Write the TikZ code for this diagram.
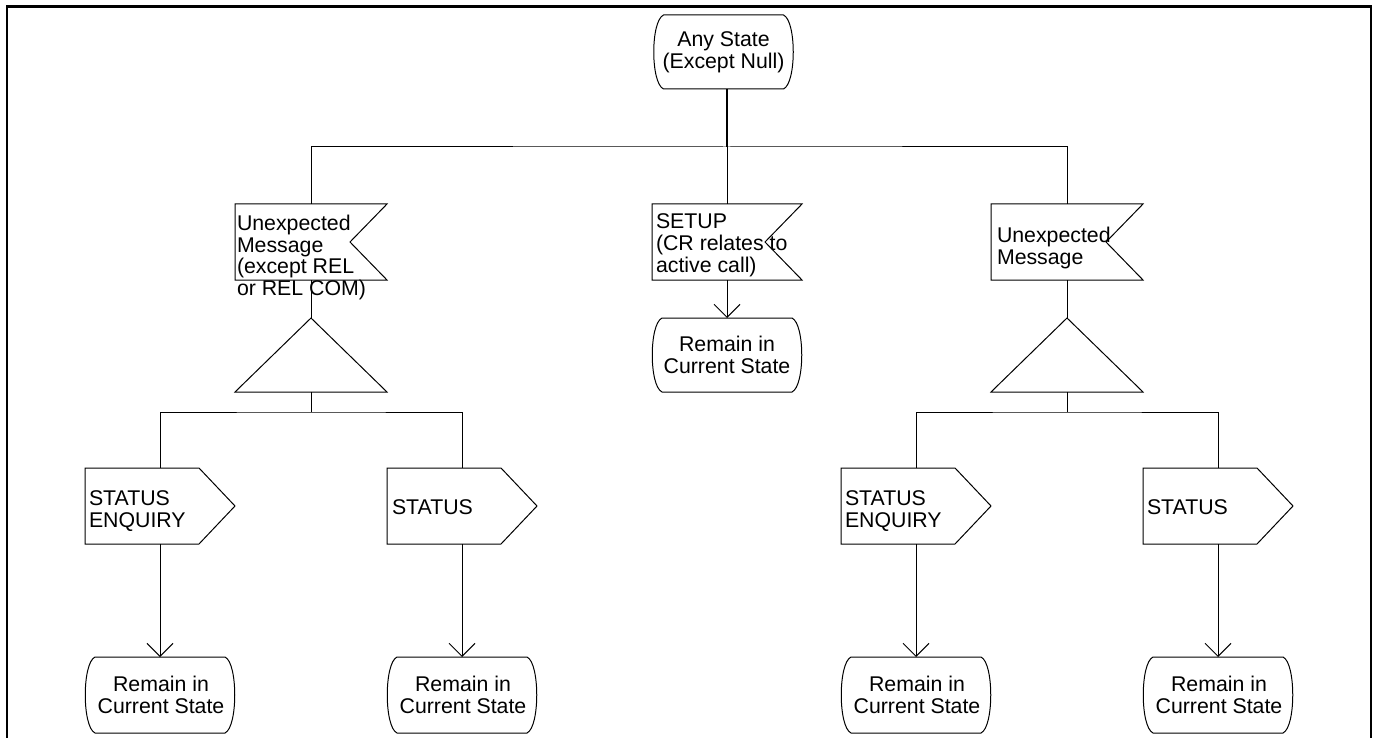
\documentclass[tikz,border=0pt]{standalone}
\usepackage{fontspec}
\setmainfont{Liberation Sans}
\usetikzlibrary{calc,arrows.meta}
\newcommand\mystate[1]{%
  \draw[ln] ($(#1.north west)+(10,0)$) -- ($(#1.north east)+(-10,0)$)
    .. controls ($(#1.north east)+(3,6)$) and ($(#1.south east)+(3,-6)$) .. ($(#1.south east)+(-10,0)$)
    -- ($(#1.south west)+(10,0)$)
    .. controls ($(#1.south west)+(-3,-6)$) and ($(#1.north west)+(-3,6)$) .. cycle;}
\newcommand\mysigin[1]{%
  \draw[ln] (#1.north west) -- (#1.north east) -- ($(#1.east)+(-37,0)$) -- (#1.south east) -- (#1.south west) -- cycle;}
\newcommand\mysigout[1]{%
  \draw[ln] (#1.north west) -- ($(#1.north east)+(-36,0)$) -- (#1.east) -- ($(#1.south east)+(-36,0)$) -- (#1.south west) -- cycle;}
\newcommand\mytri[1]{%
  \draw[ln] (#1.north) -- (#1.south east) -- (#1.south west) -- cycle;}
\begin{document}
\begin{tikzpicture}[x=1pt,y=-1pt,
  shp/.style={inner sep=0pt, outer sep=0pt, minimum width=150pt, minimum height=76pt},
  txt/.style={inner sep=0pt, outer sep=0pt, font=\fontsize{21.3}{21.6}\selectfont},
  lbl/.style={txt, align=left, anchor=north west},
  clbl/.style={txt, align=center},
  ln/.style={line width=1pt},
  arr/.style={ln, -{Straight Barb[length=13pt,width=26pt]}}
]
\useasboundingbox (0,0) rectangle (1379,738);
\draw[line width=2.5pt] (7,738) -- (7,6.5) -- (1371,6.5) -- (1371,738);

% top state
\node[shp, minimum width=140pt, minimum height=74pt] (top) at (723.5,52) {};
\node[clbl] (toptxt) at (723.5,52) {Any State\\(Except Null)};
\mystate{top}

% branch junction
\coordinate (h0) at (727,147);
\draw[line width=2pt] (top.south -| h0) -- (h0);

% message inputs
\node[shp, minimum width=152pt] (m1) at (311,242) {};
\node[shp] (m2) at (727,242) {};
\node[shp, minimum width=152pt] (m3) at (1067,242) {};
\mysigin{m1}\mysigin{m2}\mysigin{m3}
\node[lbl] (m1t) at (237,215) {Unexpected\\Message\\(except REL\\or REL COM)};
\node[lbl] (m2t) at (656,214) {SETUP\\(CR relates to\\active call)};
\node[lbl] (m3t) at (997,227) {Unexpected\\Message};

\draw[ln] (m1.north) |- (h0) -| (m3.north);
\draw[ln] (h0) -- (m2.north);

% middle state
\node[shp, minimum height=74pt] (s2) at (727,355) {};
\node[clbl] (s2t) at (727,355) {Remain in\\Current State};
\mystate{s2}
\draw[arr] (m2.south) -- (s2.north);

% decisions (triangles)
\node[shp, minimum width=152pt, minimum height=74pt] (t1) at (311,355) {};
\node[shp, minimum width=152pt, minimum height=74pt] (t3) at (1067,355) {};
\mytri{t1}\mytri{t3}
\draw[ln] (m1.south) -- (t1.north);
\draw[ln] (m3.south) -- (t3.north);

\coordinate (b1) at (311,412);
\coordinate (b3) at (1067,412);
\draw[ln] (t1.south) -- (b1);
\draw[ln] (t3.south) -- (b3);

% outputs
\node[shp] (o1) at (160,506) {};
\node[shp] (o2) at (462,506) {};
\node[shp] (o3) at (916,506) {};
\node[shp] (o4) at (1218,506) {};
\mysigout{o1}\mysigout{o2}\mysigout{o3}\mysigout{o4}
\node[lbl] (o1t) at (89,491) {STATUS\\ENQUIRY};
\node[lbl] (o2t) at (392,500) {STATUS};
\node[lbl] (o3t) at (845,491) {STATUS\\ENQUIRY};
\node[lbl] (o4t) at (1147,500) {STATUS};

\draw[ln] (o1.north) |- (b1) -| (o2.north);
\draw[ln] (o3.north) |- (b3) -| (o4.north);

% bottom states
\node[shp] (s1) at (160,695) {};
\node[shp] (s3) at (462,695) {};
\node[shp] (s4) at (916,695) {};
\node[shp] (s5) at (1218,695) {};
\node[clbl] (s1t) at (161,695) {Remain in\\Current State};
\node[clbl] (s3t) at (463,695) {Remain in\\Current State};
\node[clbl] (s4t) at (917,695) {Remain in\\Current State};
\node[clbl] (s5t) at (1219,695) {Remain in\\Current State};
\mystate{s1}\mystate{s3}\mystate{s4}\mystate{s5}
\draw[arr] (o1.south) -- (s1.north);
\draw[arr] (o2.south) -- (s3.north);
\draw[arr] (o3.south) -- (s4.north);
\draw[arr] (o4.south) -- (s5.north);
\end{tikzpicture}
\end{document}
